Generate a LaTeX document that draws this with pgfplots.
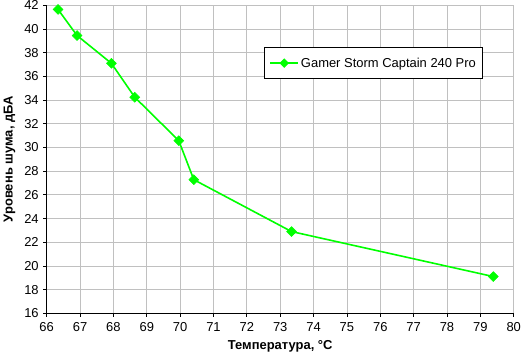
\documentclass[border=0pt]{standalone}
\usepackage{fontspec}
\setmainfont{Liberation Sans}
\usepackage{pgfplots}
\pgfplotsset{compat=1.18}
\definecolor{gridgray}{RGB}{192,192,192}
\definecolor{lgreen}{RGB}{0,255,0}
\begin{document}
\begin{tikzpicture}
\useasboundingbox (-46.7bp,-43.7bp) rectangle (474.3bp,313.3bp);
\begin{axis}[
  scale only axis,
  width=467bp, height=308bp,
  xmin=66, xmax=80, ymin=16, ymax=42,
  xtick={66,67,...,80}, ytick={16,18,...,42},
  axis lines*=left,
  axis line style={black, line width=0.8pt, -},
  grid=major,
  grid style={gridgray, line width=0.8pt},
  tick style={black, line width=0.8pt},
  tick align=outside,
  major tick length=3.5bp,
  /pgf/number format/assume math mode=true,
  ticklabel style={font=\fontsize{13}{15}\selectfont},
  xticklabel style={yshift=-2bp},
  yticklabel style={xshift=-1bp},
  xlabel={\textbf{Температура, °С}},
  ylabel={\textbf{Уровень шума, дБА}},
  label style={font=\fontsize{13}{15}\selectfont},
  xlabel style={yshift=-2bp},
  ylabel style={yshift=2bp},
  legend style={at={(rel axis cs:0.4655,0.8636)}, anchor=north west,
    draw=black, line width=0.8pt, fill=white,
    font=\fontsize{13}{15}\selectfont,
    inner xsep=5bp, inner ysep=8bp,
    legend cell align=left},
  legend image code/.code={%
    \draw[#1, line width=1.5pt] (0bp,0bp) -- (28bp,0bp);
    \draw[#1, mark size=2.5bp, mark=square*, mark options={rotate=45}] plot coordinates {(14bp,0bp)};
  },
]
\addplot[color=lgreen, line width=1.6pt, mark=square*, mark size=3.5bp,
  mark options={fill=lgreen, draw=lgreen, line width=0.5pt, rotate=45}]
coordinates {
 (66.34,41.65) (66.91,39.45) (67.94,37.1) (68.64,34.24)
 (69.96,30.57) (70.41,27.28) (73.34,22.9) (79.39,19.1)
};
\addlegendentry{Gamer Storm Captain 240 Pro}
\end{axis}
\end{tikzpicture}
\end{document}
